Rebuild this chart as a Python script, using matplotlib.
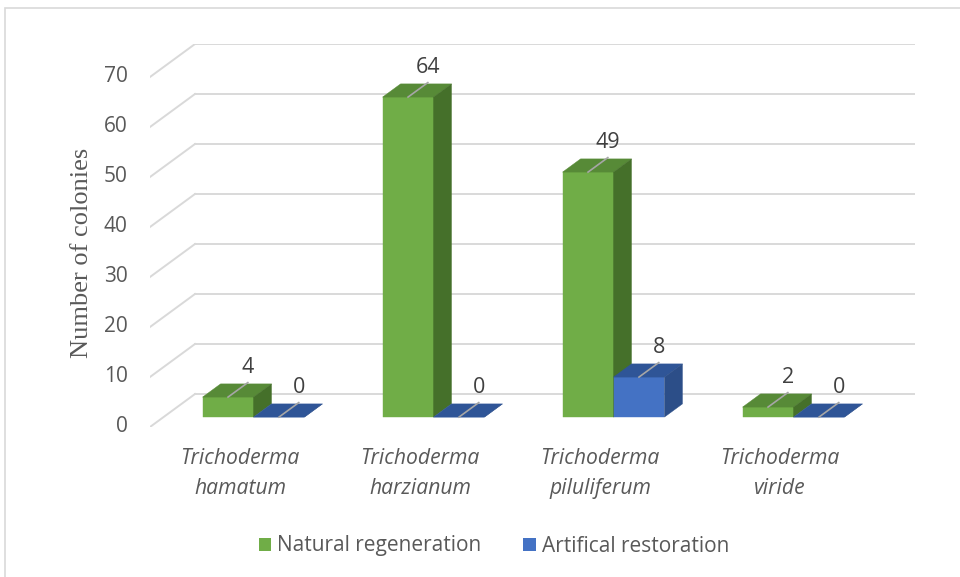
import matplotlib
matplotlib.use('Agg')
import matplotlib.pyplot as plt
from matplotlib.patches import Polygon, Patch, Rectangle

species = ['Trichoderma\nhamatum', 'Trichoderma\nharzianum',
           'Trichoderma\npiluliferum', 'Trichoderma\nviride']
natural = [4, 64, 49, 2]
artificial = [0, 0, 8, 0]
series_names = ['Natural regeneration', 'Artifical restoration']
yticks = [0, 10, 20, 30, 40, 50, 60, 70]

# front / top / side colours for the pseudo-3D bars
green = ('#70AD47', '#578A37', '#45702A')
blue = ('#4472C4', '#2F5597', '#2C4E88')
grid_col = '#D9D9D9'
text_col = '#595959'

# oblique depth offset (data units at full depth)
OX = 0.25
OY = 6.6
bw = 0.283
z0, z1 = 0.3, 0.7


def proj(x, y, z):
    return (x + z * OX, y + z * OY)


plt.rcParams['font.family'] = ['Open Sans', 'DejaVu Sans']
fig = plt.figure(figsize=(9.6, 5.77), dpi=100)
ax = fig.add_axes([150 / 960, 150 / 577, 765 / 960, 383 / 577])
ax.set_xlim(-0.5, 3.5 + OX)
ax.set_ylim(0, yticks[-1] + OY)
ax.axis('off')

# figure border
fig.patches.append(Rectangle((5 / 960, -0.1), 1.2, (569 + 58) / 577,
                             transform=fig.transFigure, fill=False,
                             edgecolor='#D9D9D9', lw=1.2))

# back wall and side wall gridlines
for v in yticks:
    ax.plot(*zip(proj(-0.5, v, 1), proj(3.5, v, 1)), color=grid_col, lw=1.4, zorder=1)
    ax.plot(*zip(proj(-0.5, v, 0), proj(-0.5, v, 1)), color=grid_col, lw=1.4, zorder=1)
    ax.annotate(str(v), xy=(-0.5, v), xytext=(-16, 0), textcoords='offset points',
                ha='right', va='center', fontsize=15, color=text_col)


def bar(x0, v, cols):
    x1 = x0 + bw
    front = [proj(x0, 0, z0), proj(x1, 0, z0), proj(x1, v, z0), proj(x0, v, z0)]
    top = [proj(x0, v, z0), proj(x1, v, z0), proj(x1, v, z1), proj(x0, v, z1)]
    side = [proj(x1, 0, z0), proj(x1, 0, z1), proj(x1, v, z1), proj(x1, v, z0)]
    for pts, c in zip([front, top, side], cols):
        ax.add_patch(Polygon(pts, closed=True, facecolor=c, edgecolor=c, lw=0.3, zorder=3))
    xc = x0 + bw / 2
    a = proj(xc, v, z0)
    b = proj(xc, v, 0.74)
    ax.plot([a[0], b[0]], [a[1], b[1]], color='#A6A6A6', lw=1.2, zorder=4)
    ax.annotate(str(v), xy=b, xytext=(0, 7), textcoords='offset points',
                ha='center', va='baseline', fontsize=15.5, color='#404040', zorder=5)


for i in range(len(species)):
    bar(i - bw, natural[i], green)
    bar(i, artificial[i], blue)
    ax.annotate(species[i], xy=(i, 0), xytext=(0, -15), textcoords='offset points',
                ha='center', va='top', fontsize=15.2, style='italic',
                color=text_col, linespacing=1.55, annotation_clip=False)

fig.text(82 / 960, 1 - 253 / 577, 'Number of colonies', rotation=90,
         ha='center', va='center', family='Liberation Serif', fontsize=19,
         color=text_col)

handles = [Patch(facecolor=green[0], edgecolor='none'),
           Patch(facecolor=blue[0], edgecolor='none')]
fig.legend(handles, series_names, loc='center', bbox_to_anchor=(494 / 960, 1 - 546 / 577),
           ncol=2, frameon=False, fontsize=15, handlelength=0.6, handleheight=0.6,
           handletextpad=0.3, columnspacing=2.0, labelcolor=text_col)

fig.savefig('out.png', dpi=100)
